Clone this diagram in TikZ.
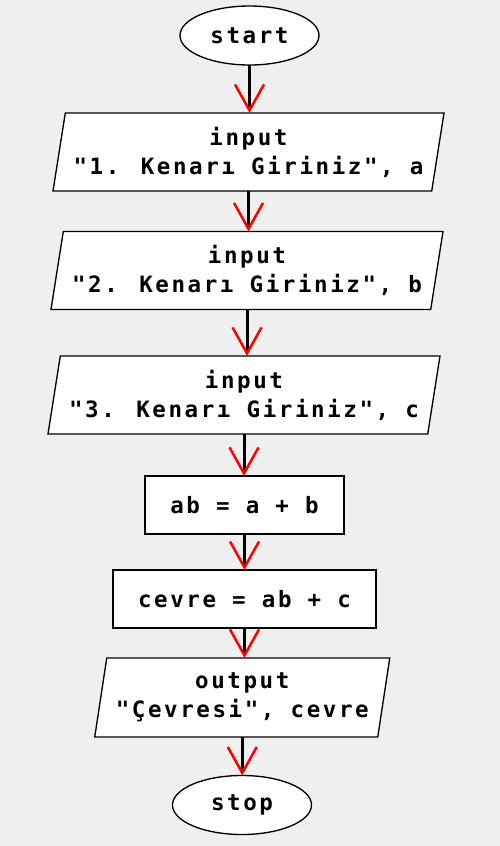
\documentclass[tikz,border=0pt]{standalone}
\usepackage{fontspec}
\newfontfamily\flowfont{DejaVu Sans Mono}[LetterSpace=11.5]
\usetikzlibrary{shapes.geometric,arrows.meta}
\definecolor{bgc}{RGB}{239,239,239}
\begin{document}
\begin{tikzpicture}[x=0.6pt,y=-0.6pt,
  every node/.style={font=\flowfont\bfseries\fontsize{13.5}{17.4}\selectfont, draw=black, line width=0.8pt, fill=white, outer sep=0pt, align=center},
  term/.style={ellipse, minimum width=83.4pt, minimum height=35.4pt, inner sep=0pt},
  proc/.style={rectangle, minimum height=34.8pt, inner sep=0pt},
  io/.style={trapezium, trapezium left angle=76.3, trapezium right angle=103.7, trapezium stretches body, minimum height=46.8pt, inner xsep=0pt, inner ysep=0pt},
  flow/.style={line width=1.8pt, draw=black, -{Straight Barb[color=red, length=15.6pt, width=17.4pt, line width=1.5pt]}}
]
\fill[bgc] (0,0) rectangle (500,846);
\useasboundingbox (0,0) rectangle (500,846);
\node[term] (start) at (249.5,35.5) {start};
\node[io, minimum width=234.6pt] (in1) at (248.5,152) {input\\"1. Kenarı Giriniz", a};
\node[io, minimum width=235.2pt] (in2) at (247,270.5) {input\\"2. Kenarı Giriniz", b};
\node[io, minimum width=235.2pt] (in3) at (244,395) {input\\"3. Kenarı Giriniz", c};
\node[proc, minimum width=119.4pt] (ab) at (244.5,505) {ab = a + b};
\node[proc, minimum width=157.8pt] (cevre) at (244.5,599) {cevre = ab + c};
\node[io, minimum width=177pt, minimum height=47.4pt] (out) at (242.25,697.5) {output\\"Çevresi", cevre};
\node[term] (stop) at (242,805) {stop};
\draw[flow] (start.south) -- (start.south |- in1.north);
\draw[flow] (in1.south) -- (in1.south |- in2.north);
\draw[flow] (in2.south) -- (in2.south |- in3.north);
\draw[flow] (in3.south) -- (in3.south |- ab.north);
\draw[flow] (ab.south) -- (ab.south |- cevre.north);
\draw[flow] (cevre.south) -- (cevre.south |- out.north);
\draw[flow] (out.south) -- (out.south |- stop.north);
\end{tikzpicture}
\end{document}
